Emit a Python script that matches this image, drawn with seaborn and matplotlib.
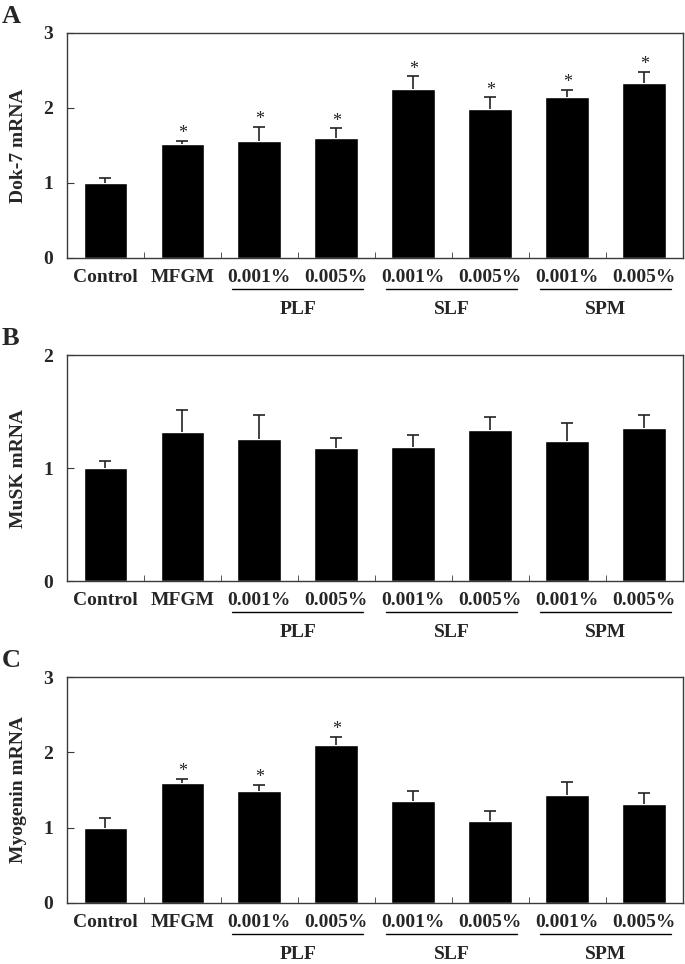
import numpy as np
import pandas as pd
import matplotlib
matplotlib.use('Agg')
from matplotlib import pyplot as plt
import seaborn as sns

# categorias e grupos
grupos_x = ['Control', 'MFGM', '0.001%', '0.005%', '0.001%', '0.005%', '0.001%', '0.005%']
grupos_sub = ['PLF', 'SLF', 'SPM']

# Dok-7 (painel A)
dok7_media = [1.00, 1.52, 1.56, 1.60, 2.25, 1.98, 2.14, 2.33]
dok7_erro = [0.06, 0.04, 0.19, 0.13, 0.17, 0.16, 0.10, 0.15]
dok7_sig = [False, True, True, True, True, True, True, True]

# MuSK (painel B)
musk_media = [1.00, 1.32, 1.26, 1.18, 1.19, 1.34, 1.235, 1.355]
musk_erro = [0.06, 0.19, 0.21, 0.09, 0.10, 0.11, 0.165, 0.115]
musk_sig = [False] * 8

# Myogenin (painel C)
myog_media = [0.99, 1.59, 1.49, 2.10, 1.355, 1.09, 1.43, 1.32]
myog_erro = [0.14, 0.06, 0.08, 0.11, 0.135, 0.13, 0.18, 0.14]
myog_sig = [False, True, True, True, False, False, False, False]

sns.set_style('ticks')
plt.rcParams['font.family'] = ['Liberation Serif', 'DejaVu Serif']

cor_eixo = '#3a3a3a'


def desenhar_painel(ax, media, erro, sig, ylabel, ymax, letra):
    df = pd.DataFrame({'Grupo': range(len(media)), 'Valor': media})
    sns.barplot(x='Grupo', y='Valor', data=df, color='black', width=0.57,
                errorbar=None, saturation=1, ax=ax)
    x = np.arange(len(media))
    # barra de erro só para cima
    _, caps, _ = ax.errorbar(x, media, yerr=[np.zeros(len(erro)), erro], fmt='none',
                             ecolor='#222222', elinewidth=1.2, capsize=4, capthick=1.2)
    caps[0].set_visible(False)
    for i in range(len(media)):
        if sig[i]:
            ax.annotate('*', (x[i], media[i] + erro[i]), xytext=(0, -1),
                        textcoords='offset points', ha='center', va='bottom',
                        fontsize=13, color='#222222')

    ax.set_xlim(-0.5, len(media) - 0.5)
    ax.set_ylim(0, ymax)
    ax.set_yticks(range(ymax + 1))
    ax.set_yticklabels([str(v) for v in range(ymax + 1)], fontsize=14, fontweight='bold')
    ax.set_xticks(x)
    ax.set_xticklabels(grupos_x, fontsize=14, fontweight='bold')
    ax.set_xticks(np.arange(0.5, len(media) - 1), minor=True)
    ax.tick_params(axis='x', which='major', length=0, pad=8)
    ax.tick_params(axis='x', which='minor', direction='in', length=4, color=cor_eixo)
    ax.tick_params(axis='y', direction='in', length=5, pad=10, color=cor_eixo)
    ax.set_xlabel('')
    ax.set_ylabel(ylabel, fontsize=14, fontweight='bold', labelpad=12)
    for lado in ['top', 'right', 'left', 'bottom']:
        ax.spines[lado].set_visible(True)
        ax.spines[lado].set_color(cor_eixo)
        ax.spines[lado].set_linewidth(1.0)

    # linhas e rótulos dos grupos
    trans = ax.get_xaxis_transform()
    for k, nome in enumerate(grupos_sub):
        a = 2 + 2 * k
        b = a + 1
        ax.plot([a - 0.35, b + 0.35], [-0.138, -0.138], color='black', lw=1.0,
                transform=trans, clip_on=False)
        ax.text((a + b) / 2, -0.23, nome, transform=trans, ha='center', va='center',
                fontsize=14, fontweight='bold')

    pos = ax.get_position()
    ax.figure.text(0.002, pos.y1 + 0.0176, letra, fontsize=19, fontweight='bold',
                   ha='left', va='center')


fig = plt.figure(figsize=(6.85, 9.64), dpi=100)
ax_a = fig.add_axes([0.0978, 0.7324, 0.899, 0.2334])
ax_b = fig.add_axes([0.0978, 0.3973, 0.899, 0.2344])
ax_c = fig.add_axes([0.0978, 0.0633, 0.899, 0.2344])

desenhar_painel(ax_a, dok7_media, dok7_erro, dok7_sig, 'Dok-7 mRNA', 3, 'A')
desenhar_painel(ax_b, musk_media, musk_erro, musk_sig, 'MuSK mRNA', 2, 'B')
desenhar_painel(ax_c, myog_media, myog_erro, myog_sig, 'Myogenin mRNA', 3, 'C')

plt.savefig('out.png', dpi=100)
